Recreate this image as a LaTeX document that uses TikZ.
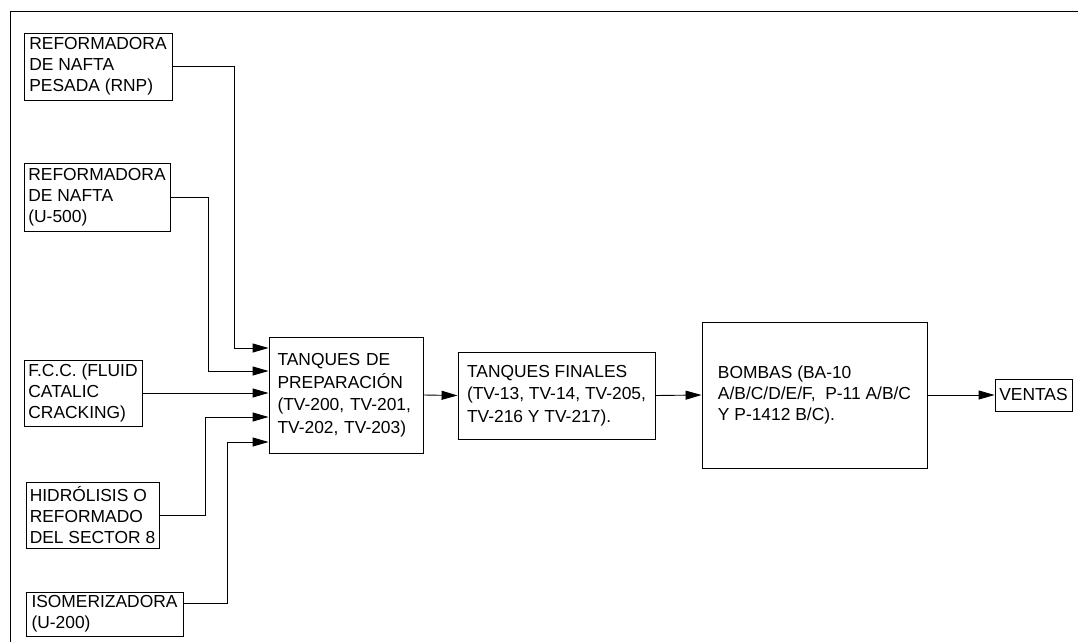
\documentclass[tikz,border=0pt]{standalone}
\usepackage{fontspec}
\setmainfont{Liberation Sans}
\usetikzlibrary{arrows.meta,calc}
\begin{document}
\begin{tikzpicture}[x=1pt,y=-1pt,
  box/.style={draw,line width=0.9pt,align=left,inner sep=0pt,
    font=\fontsize{17.4}{21}\selectfont},
  wide/.style={font=\fontsize{17.4}{22.5}\selectfont},
  arr/.style={line width=0.9pt,-{Triangle[length=16pt,width=9pt]}}]
\useasboundingbox (0,0) rectangle (1078,642);
% frame
\draw[line width=0.9pt] (1078,11) -- (10.5,11) -- (10.5,642);
% source boxes
\node[box,minimum width=148,minimum height=67] (rnp) at (98,66.5)
  {REFORMADORA\\DE NAFTA\\PESADA (RNP)};
\node[box,minimum width=146,minimum height=68] (u500) at (97,197.5)
  {REFORMADORA\\DE NAFTA\\(U-500)};
\node[box,minimum width=118,minimum height=66] (fcc) at (83,393)
  {F.C.C. (FLUID\\CATALIC\\CRACKING)};
\node[box,minimum width=133,minimum height=66] (hid) at (92.5,515)
  {HIDRÓLISIS O\\REFORMADO\\DEL SECTOR 8};
\node[box,minimum width=157,minimum height=44] (iso) at (104.5,614)
  {ISOMERIZADORA\\(U-200)};
% process boxes
\node[box,wide,text width=137,inner xsep=8.5,minimum height=116] (prep) at (346,395)
  {TANQUES DE\\PREPARACIÓN\\(TV-200, TV-201,\\TV-202, TV-203)};
\node[box,wide,minimum width=197,minimum height=87] (fin) at (556.5,395.5)
  {TANQUES FINALES\\(TV-13, TV-14, TV-205,\\TV-216 Y TV-217).};
\node[box,minimum width=225,minimum height=146] (bom) at (814.5,395)
  {BOMBAS (BA-10\\A/B/C/D/E/F,\ \ P-11 A/B/C\\Y P-1412 B/C).};
\node[box,minimum width=77,minimum height=32] (ven) at (1033.5,395)
  {VENTAS};
% bend points
\coordinate (b1) at (234,348);
\coordinate (b2) at (208,371);
\coordinate (b4) at (205,417);
\coordinate (b5) at (227,442);
\coordinate (i0) at ($(iso.north east)+(0,12)$);
% connectors into preparation tanks
\draw[arr] (rnp.east) -| (b1) -- (b1 -| prep.west);
\draw[arr] (u500.east) -| (b2) -- (b2 -| prep.west);
\draw[arr] (fcc.east) -- (fcc.east -| prep.west);
\draw[arr] (hid.east) -| (b4) -- (b4 -| prep.west);
\draw[arr] (i0) -| (b5) -- (b5 -| prep.west);
% main chain
\draw[arr] (prep.east) -- (fin.west);
\draw[arr] (fin.east) -- (bom.west);
\draw[arr] (bom.east) -- (ven.west);
\end{tikzpicture}
\end{document}
